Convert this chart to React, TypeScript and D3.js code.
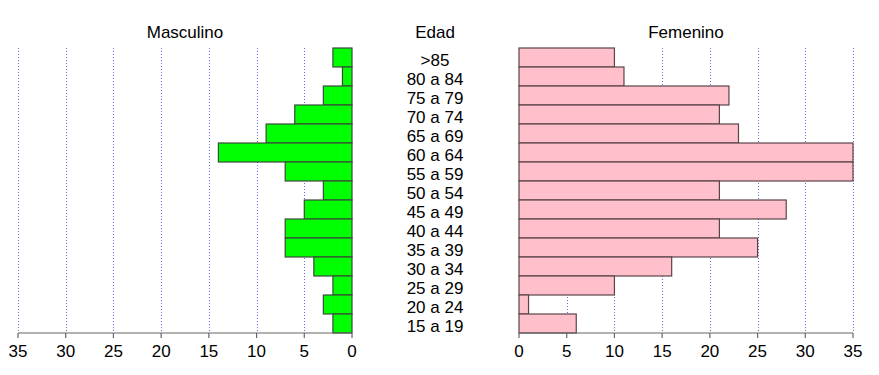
import React from 'react';
import * as d3 from 'd3';

// Age groups, top to bottom
const ageGroups = [
  '>85', '80 a 84', '75 a 79', '70 a 74', '65 a 69', '60 a 64', '55 a 59', '50 a 54',
  '45 a 49', '40 a 44', '35 a 39', '30 a 34', '25 a 29', '20 a 24', '15 a 19',
];
const masculino = [2, 1, 3, 6, 9, 14, 7, 3, 5, 7, 7, 4, 2, 3, 2];
const femenino = [10, 11, 22, 21, 23, 35, 35, 21, 28, 21, 25, 16, 10, 1, 6];
const ticks = [0, 5, 10, 15, 20, 25, 30, 35];

const W = 879;
const H = 375;
const font = 'Arial, "Liberation Sans", sans-serif';

export default function App() {
  // Y band scale shared by both panels
  const y = d3.scaleBand().domain(ageGroups).range([48, 333]).paddingInner(0);

  // Left panel grows to the left
  const xL = d3.scaleLinear().domain([0, 35]).range([352, 18]);
  // Right panel grows to the right
  const xR = d3.scaleLinear().domain([0, 35]).range([519, 853]);

  const top = y.range()[0];
  const bottom = y.range()[1];
  const midX = 435;

  return (
    <svg width={W} height={H} style={{ position: 'absolute', left: 0, top: 0, background: '#fff' }} fontFamily={font}>
      {/* titles */}
      <text x={185} y={38} fontSize={17} textAnchor="middle">Masculino</text>
      <text x={midX} y={38} fontSize={17} textAnchor="middle">Edad</text>
      <text x={686} y={38} fontSize={17} textAnchor="middle">Femenino</text>

      {/* grid lines */}
      <g stroke="#6a6aee" strokeWidth={1} strokeDasharray="1,2">
        {ticks.filter(t => t > 0).map(t => (
          <line key={'gl' + t} x1={Math.round(xL(t)) + 0.5} x2={Math.round(xL(t)) + 0.5} y1={top} y2={bottom} />
        ))}
        {ticks.filter(t => t > 0).map(t => (
          <line key={'gr' + t} x1={Math.round(xR(t)) + 0.5} x2={Math.round(xR(t)) + 0.5} y1={top} y2={bottom} />
        ))}
      </g>

      {/* bars */}
      <g>
        {ageGroups.map((a, i) => (
          <rect
            key={'m' + a}
            x={xL(masculino[i])}
            y={y(a)}
            width={xL(0) - xL(masculino[i])}
            height={y.bandwidth()}
            fill="#00ff00"
            stroke="#3a4a3a"
            strokeWidth={1.2}
          />
        ))}
        {ageGroups.map((a, i) => (
          <rect
            key={'f' + a}
            x={xR(0)}
            y={y(a)}
            width={xR(femenino[i]) - xR(0)}
            height={y.bandwidth()}
            fill="#ffc0cb"
            stroke="#5a4448"
            strokeWidth={1.2}
          />
        ))}
      </g>

      {/* age labels */}
      {ageGroups.map(a => (
        <text key={'l' + a} x={midX} y={(y(a) as number) + y.bandwidth() / 2 + 8.5} fontSize={17} textAnchor="middle">
          {a}
        </text>
      ))}

      {/* axes */}
      <g stroke="#666" strokeWidth={1.2}>
        <line x1={xL(35)} x2={xL(0)} y1={bottom} y2={bottom} />
        <line x1={xR(0)} x2={xR(35)} y1={bottom} y2={bottom} />
        {ticks.map(t => (
          <line key={'tl' + t} x1={xL(t)} x2={xL(t)} y1={bottom} y2={bottom + 5} />
        ))}
        {ticks.map(t => (
          <line key={'tr' + t} x1={xR(t)} x2={xR(t)} y1={bottom} y2={bottom + 5} />
        ))}
      </g>
      {ticks.map(t => (
        <text key={'xl' + t} x={xL(t)} y={357} fontSize={17} textAnchor="middle">{t}</text>
      ))}
      {ticks.map(t => (
        <text key={'xr' + t} x={xR(t)} y={357} fontSize={17} textAnchor="middle">{t}</text>
      ))}
    </svg>
  );
}
